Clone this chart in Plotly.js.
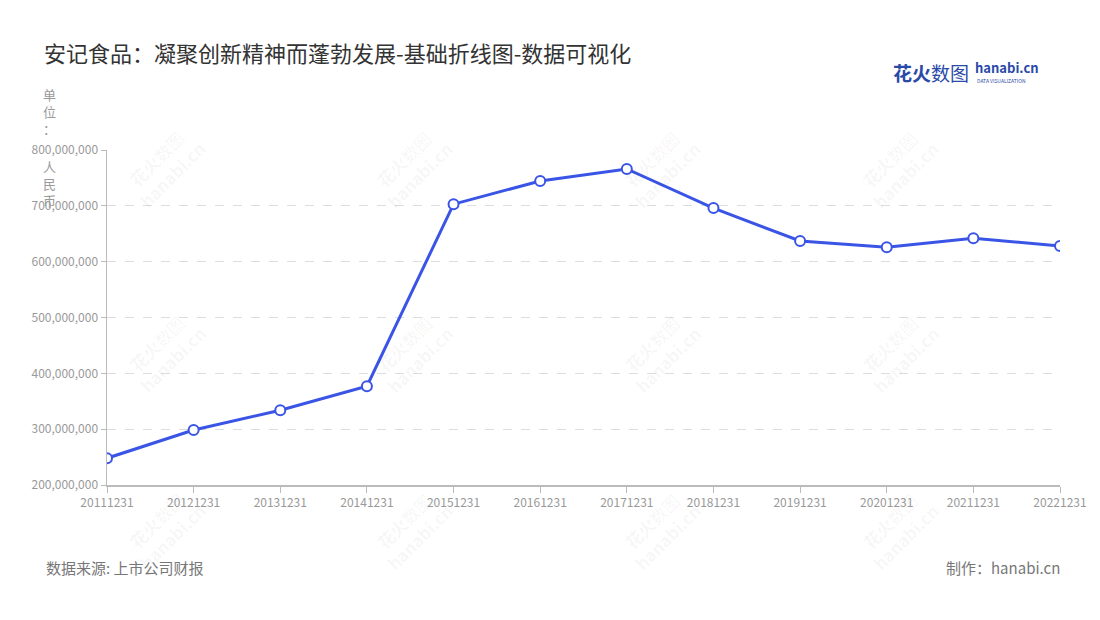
<!DOCTYPE html>
<html>
<head>
<meta charset="utf-8">
<script src="https://cdn.plot.ly/plotly-3.0.1.min.js"></script>
<style>
  body { margin: 0; background: #fff; }
  #chart { width: 1100px; height: 620px; }
</style>
</head>
<body>
<div id="chart"></div>
<script>
var periods = ['20111231', '20121231', '20131231', '20141231', '20151231', '20161231',
               '20171231', '20181231', '20191231', '20201231', '20211231', '20221231'];
var revenue = [248000000, 298500000, 334000000, 377000000, 703000000, 744500000,
               766000000, 696000000, 637000000, 626000000, 642000000, 628000000];
var yTicks = [200000000, 300000000, 400000000, 500000000, 600000000, 700000000, 800000000];
var yTickText = ['200,000,000', '300,000,000', '400,000,000', '500,000,000',
                 '600,000,000', '700,000,000', '800,000,000'];

var font = '"Noto Sans CJK SC", "Noto Sans", sans-serif';

var trace = {
    x: periods,
    y: revenue,
    type: 'scatter',
    mode: 'lines+markers',
    line: { color: '#3a55e6', width: 3 },
    marker: { size: 10, color: '#ffffff', line: { color: '#3a55e6', width: 2 } },
    hoverinfo: 'x+y'
};

// faint diagonal watermarks
var marks = [];
var wmX = [0.06, 0.32, 0.58, 0.83];
var wmY = [0.95, 0.40, -0.13];
wmX.forEach(function (wx) {
    wmY.forEach(function (wy) {
        marks.push({
            xref: 'paper', yref: 'paper', x: wx, y: wy, xanchor: 'center', yanchor: 'middle',
            text: '<b>花火</b>数图<br><b>hanabi.cn</b>', showarrow: false, textangle: -45,
            font: { family: font, size: 17, color: 'rgba(0,0,0,0.05)' }
        });
    });
});

var layout = {
    width: 1100,
    height: 620,
    paper_bgcolor: '#ffffff',
    plot_bgcolor: 'rgba(0,0,0,0)',
    margin: { l: 107, r: 40, t: 150, b: 135 },
    showlegend: false,
    font: { family: font, color: '#999999', size: 12 },
    title: {
        text: '安记食品：凝聚创新精神而蓬勃发展-基础折线图-数据可视化',
        x: 0.04, xanchor: 'left', y: 0.912, yanchor: 'middle',
        font: { family: font, size: 22, color: '#333333' }
    },
    xaxis: {
        type: 'category',
        range: [0, 11],
        showgrid: false,
        showline: true,
        linecolor: '#bbbbbb',
        linewidth: 1.5,
        ticks: 'outside',
        ticklen: 6,
        tickcolor: '#bbbbbb',
        tickfont: { size: 12, color: '#999999' },
        fixedrange: true
    },
    yaxis: {
        range: [200000000, 800000000],
        tickvals: yTicks,
        ticktext: yTickText,
        showgrid: true,
        gridcolor: '#dddddd',
        griddash: 'dash',
        showline: true,
        linecolor: '#bbbbbb',
        linewidth: 1.5,
        ticks: 'outside',
        ticklen: 5,
        tickcolor: '#bbbbbb',
        zeroline: false,
        tickfont: { size: 12, color: '#999999' },
        fixedrange: true
    },
    annotations: marks.concat([
        {
            xref: 'paper', yref: 'paper', x: -0.06, y: 1.2, xanchor: 'center', yanchor: 'top',
            text: '单<br>位<br>：', showarrow: false, align: 'center',
            font: { family: font, size: 13, color: '#999999' }
        },
        {
            xref: 'paper', yref: 'paper', x: -0.06, y: 0.985, xanchor: 'center', yanchor: 'top',
            text: '人<br>民<br>币', showarrow: false, align: 'center',
            font: { family: font, size: 13, color: '#999999' }
        },
        {
            xref: 'paper', yref: 'paper', x: -0.066, y: -0.245, xanchor: 'left', yanchor: 'middle',
            text: '数据来源: 上市公司财报', showarrow: false,
            font: { family: font, size: 15, color: '#777777' }
        },
        {
            xref: 'paper', yref: 'paper', x: 1.002, y: -0.245, xanchor: 'right', yanchor: 'middle',
            text: '制作：hanabi.cn', showarrow: false,
            font: { family: font, size: 15, color: '#777777' }
        },
        {
            xref: 'paper', yref: 'paper', x: 0.823, y: 1.232, xanchor: 'left', yanchor: 'middle',
            text: '<b>花火</b>数图', showarrow: false,
            font: { family: font, size: 19, color: '#2a4aa8' }
        },
        {
            xref: 'paper', yref: 'paper', x: 0.909, y: 1.245, xanchor: 'left', yanchor: 'middle',
            text: '<b>hanabi.cn</b>', showarrow: false,
            font: { family: font, size: 13, color: '#2a4aa8' }
        },
        {
            xref: 'paper', yref: 'paper', x: 0.911, y: 1.207, xanchor: 'left', yanchor: 'middle',
            text: 'DATA VISUALIZATION', showarrow: false,
            font: { family: font, size: 5, color: '#2a4aa8' }
        }
    ])
};

Plotly.newPlot('chart', [trace], layout, { displayModeBar: false, staticPlot: true });
</script>
</body>
</html>
